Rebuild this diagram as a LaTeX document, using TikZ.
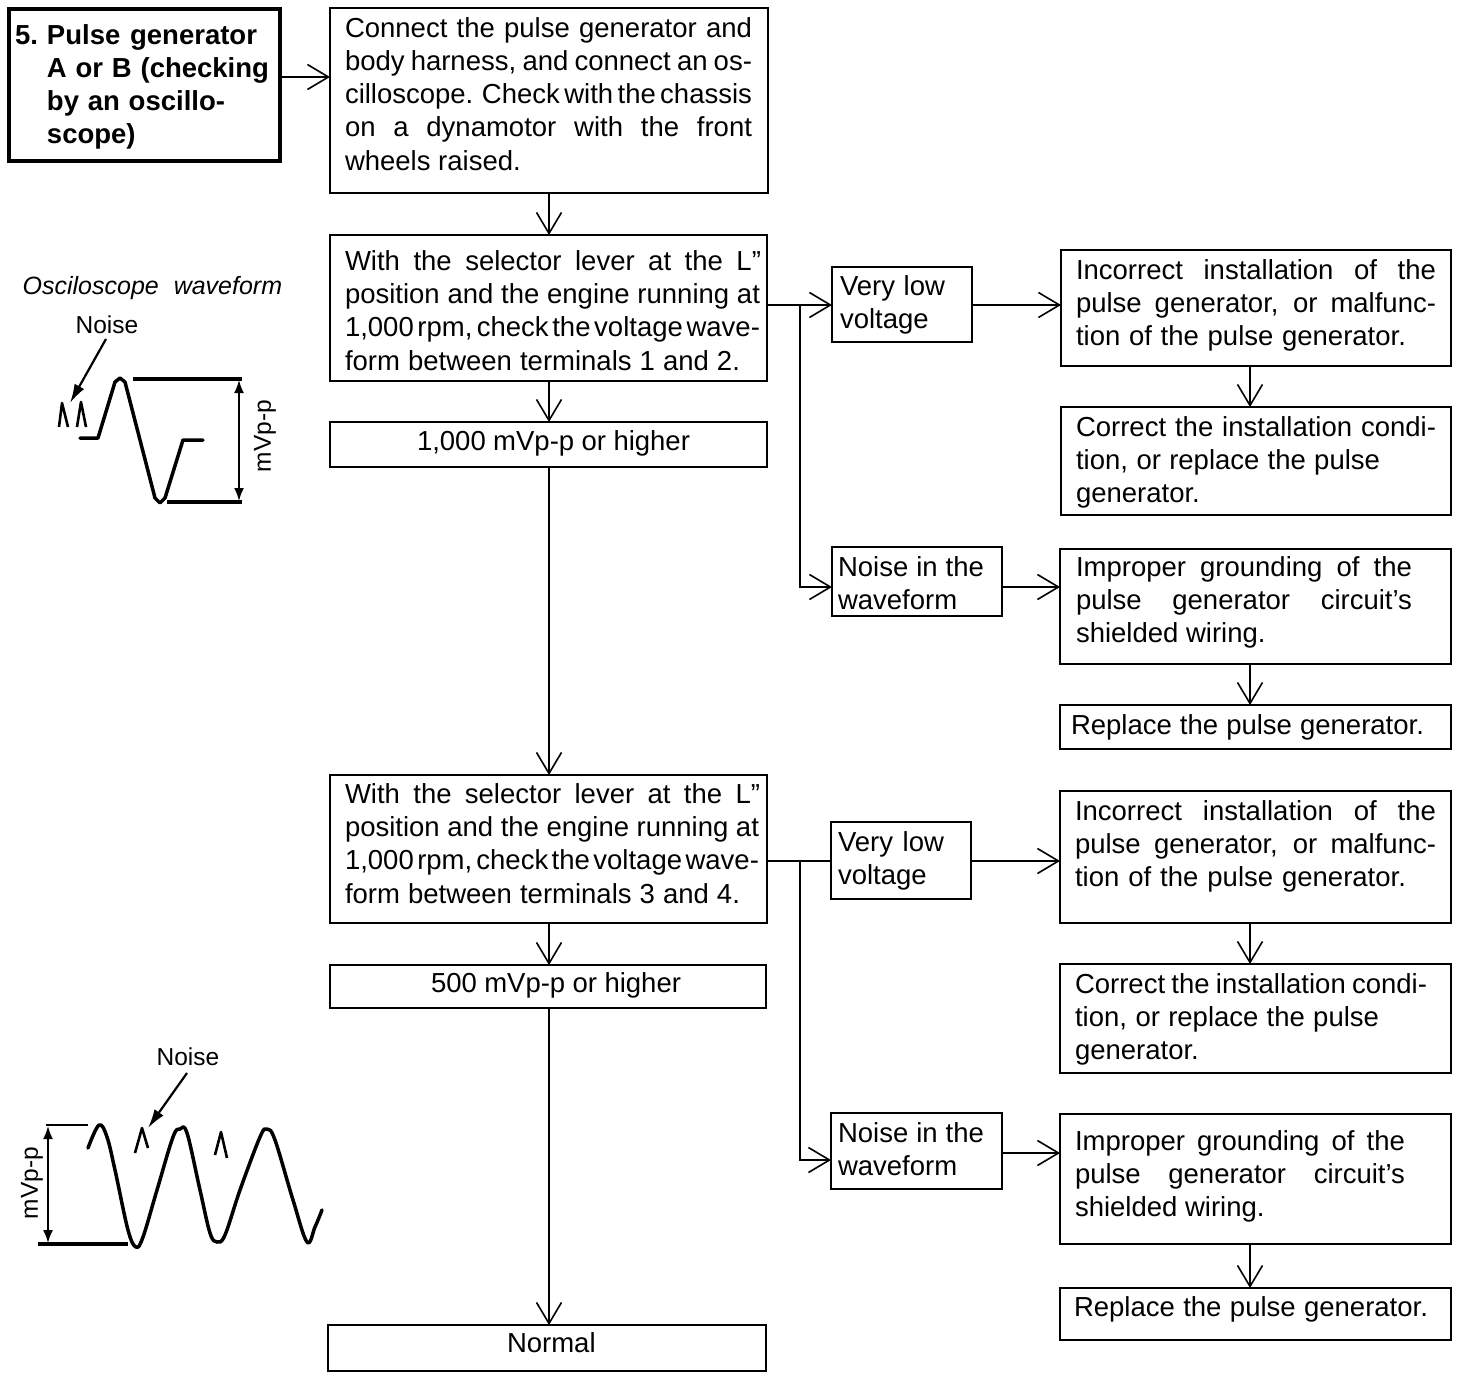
\documentclass[tikz,border=0pt]{standalone}
\usepackage{fontspec}
\setmainfont{Liberation Sans}
\usetikzlibrary{arrows.meta,calc}
\newlength{\tmpw}\newlength{\tmph}\newlength{\tmpa}\newlength{\tmpb}
\newcommand{\lstrut}{\rule[-9.9pt]{0pt}{33.3pt}}
\newcommand{\tl}[2]{\makebox[#1pt][s]{\spaceskip=.25em plus 1fil minus .17em\lstrut #2}\par}
\newcommand{\tn}[1]{\mbox{\lstrut #1}\par}
% name, x1, y1, x2, y2, text x, first line centre y, lines
\newcommand{\flowbox}[9][]{%
  \pgfmathsetlength{\tmpw}{#4-#2}\pgfmathsetlength{\tmph}{#5-#3}%
  \pgfmathsetlength{\tmpa}{#7-#2}\pgfmathsetlength{\tmpb}{#8-#3-14.3}%
  \node[flowbox style,#1] (#6) at (#2,#3) {\parbox[t][\tmph][t]{\tmpw}{%
    \vspace*{\tmpb}\leftskip=\tmpa\rightskip=0pt plus 1fil\parindent=0pt\fontsize{27.5}{33.3}\selectfont #9}};}
\tikzset{
  flowbox style/.style={draw,line width=2.2pt,anchor=north west,inner sep=0pt,outer sep=0pt},
  conn/.style={line width=2.2pt},
  flow/.style={conn,-{Straight Barb[length=21pt,width=25pt,line width=1.6pt]}},
  wave/.style={line width=3.5pt,line join=round,line cap=round},
  spike/.style={line width=2.6pt,line join=round},
  pointer/.style={line width=2.2pt,-{Latex[length=19pt,width=11pt]}},
  dim/.style={line width=1.8pt,{Latex[length=13pt,width=10pt]}-{Latex[length=13pt,width=10pt]}},
  rule/.style={line width=3.2pt},
  small/.style={inner sep=0pt,font=\fontsize{24.5}{28}\selectfont}
}
\begin{document}
\begin{tikzpicture}[x=1pt,y=-1pt]
\fill[white] (0,0) rectangle (1472,1378);
\useasboundingbox (0,0) rectangle (1472,1378);

\flowbox[line width=4.5pt]{9}{9}{280}{161}{title}{15}{35}{\bfseries
  \makebox[32pt][l]{5.}\tl{210}{Pulse generator}
  \hspace*{32pt}\tl{222}{A or B (checking}
  \hspace*{32pt}\tl{178}{by an oscillo-}
  \hspace*{32pt}\tn{scope)}}
\flowbox{330}{8}{768}{193}{b1}{345}{28}{
  \tl{407}{Connect the pulse generator and}
  \tl{407}{body harness, and connect an os-}
  \tl{407}{cilloscope. Check with the chassis}
  \tl{407}{on a dynamotor with the front}
  \tn{wheels raised.}}
\flowbox{330}{235}{767}{381}{b2}{345}{261}{
  \tl{416}{With the selector lever at the L"}
  \tl{415}{position and the engine running at}
  \tl{415}{1,000 rpm, check the voltage wave-}
  \tl{395}{form between terminals 1 and 2.}}
\flowbox{330}{422}{767}{467}{b3}{417}{441}{\tl{273}{1,000 mVp-p or higher}}
\flowbox{832}{267}{972}{342}{vl1}{840}{286}{\tl{105}{Very low}\tn{voltage}}
\flowbox{832}{547}{1002}{616}{n1}{838}{567}{\tl{146}{Noise in the}\tn{waveform}}
\flowbox{1061}{250}{1451}{366}{r1}{1076}{270}{
  \tl{360}{Incorrect installation of the}
  \tl{360}{pulse generator, or malfunc-}
  \tl{330}{tion of the pulse generator.}}
\flowbox{1061}{407}{1451}{515}{r2}{1076}{427}{
  \tl{360}{Correct the installation condi-}
  \tl{304}{tion, or replace the pulse}
  \tn{generator.}}
\flowbox{1060}{549}{1451}{664}{r3}{1076}{567}{
  \tl{336}{Improper grounding of the}
  \tl{336}{pulse generator circuit's}
  \tn{shielded wiring.}}
\flowbox{1060}{705}{1451}{749}{r4}{1071}{725}{\tl{353}{Replace the pulse generator.}}
\flowbox{330}{775}{767}{923}{b4}{345}{794}{
  \tl{415}{With the selector lever at the L"}
  \tl{414}{position and the engine running at}
  \tl{414}{1,000 rpm, check the voltage wave-}
  \tl{395}{form between terminals 3 and 4.}}
\flowbox{330}{965}{766}{1008}{b5}{431}{983}{\tl{250}{500 mVp-p or higher}}
\flowbox{328}{1325}{766}{1371}{normal}{507}{1343}{\tn{Normal}}
\flowbox{831}{822}{971}{899}{vl2}{838}{842}{\tl{106}{Very low}\tn{voltage}}
\flowbox{831}{1113}{1002}{1189}{n2}{838}{1133}{\tl{146}{Noise in the}\tn{waveform}}
\flowbox{1060}{791}{1451}{923}{r5}{1075}{811}{
  \tl{361}{Incorrect installation of the}
  \tl{361}{pulse generator, or malfunc-}
  \tl{331}{tion of the pulse generator.}}
\flowbox{1060}{964}{1451}{1073}{r6}{1075}{984}{
  \tl{352}{Correct the installation condi-}
  \tl{304}{tion, or replace the pulse}
  \tn{generator.}}
\flowbox{1060}{1114}{1451}{1244}{r7}{1075}{1141}{
  \tl{330}{Improper grounding of the}
  \tl{330}{pulse generator circuit's}
  \tn{shielded wiring.}}
\flowbox{1060}{1288}{1451}{1340}{r8}{1074}{1307}{\tl{354}{Replace the pulse generator.}}

% rows and columns of the connectors
\coordinate (ya) at (0,77);
\coordinate (yb) at (0,305);
\coordinate (yc) at (0,587);
\coordinate (yd) at (0,861);
\coordinate (ye) at (0,1160);
\coordinate (yf) at (0,1153);
\coordinate (xm) at (549,0);
\coordinate (xn) at (800,0);
\coordinate (xr) at (1250,0);

\draw[flow] (title.east |- ya) -- (b1.west |- ya);
\draw[flow] (b1.south -| xm) -- (b2.north -| xm);
\draw[flow] (b2.south -| xm) -- (b3.north -| xm);
\draw[flow] (b3.south -| xm) -- (b4.north -| xm);
\draw[flow] (b4.south -| xm) -- (b5.north -| xm);
\draw[flow] (b5.south -| xm) -- (normal.north -| xm);
\draw[flow] (b2.east |- yb) -- (vl1.west |- yb);
\draw[flow] (xn |- yb) -- (xn |- yc) -- (n1.west |- yc);
\draw[flow] (vl1.east |- yb) -- (r1.west |- yb);
\draw[flow] (n1.east |- yc) -- (r3.west |- yc);
\draw[flow] (r1.south -| xr) -- (r2.north -| xr);
\draw[flow] (r3.south -| xr) -- (r4.north -| xr);
\draw[conn] (b4.east |- yd) -- (vl2.west |- yd);
\draw[flow] (xn |- yd) -- (xn |- ye) -- (n2.west |- ye);
\draw[flow] (vl2.east |- yd) -- (r5.west |- yd);
\draw[flow] (n2.east |- yf) -- (r7.west |- yf);
\draw[flow] (r5.south -| xr) -- (r6.north -| xr);
\draw[flow] (r7.south -| xr) -- (r8.north -| xr);

% upper waveform
\node[small,font=\fontsize{25}{28}\selectfont\itshape] (scopelabel) at (153,288) {\makebox[263pt]{Osciloscope\hspace{15pt}waveform\hss}};
\node[small] (noisea) at (107,325) {Noise};
\node[small,rotate=90] (mvppa) at (265,436) {mVp-p};
\draw[wave] (80,438) -- (98,438) -- (115,382) -- (120,378) -- (125,382) -- (155,498) -- (160,503) -- (165,498) -- (183,440) -- (203,440);
\draw[rule] (133,379) -- (242,379);
\draw[rule] (167,502) -- (242,502);
\draw[dim] (239,380) -- (239,501);
\draw[pointer] (106,339) -- (70,403);
\draw[spike] (59,427) -- (62,403) -- (68,427);
\draw[spike] (77,427) -- (81,402) -- (86,427);

% lower waveform
\node[small] (noiseb) at (188,1057) {Noise};
\node[small,rotate=90] (mvppb) at (32,1183) {mVp-p};
\draw[wave] plot[smooth,tension=.6] coordinates {(88,1148) (99,1125) (107,1137) (115,1170) (128,1230) (136,1247) (143,1237) (157,1190) (173,1137) (180,1129) (187,1133) (200,1190) (210,1233) (217,1242) (225,1235) (240,1190) (260,1137) (267,1129) (275,1140) (293,1200) (307,1242) (315,1227) (322,1210)};
\draw[line width=2pt] (46,1125) -- (88,1125);
\draw[line width=3.6pt] (38,1244) -- (128,1244);
\draw[dim] (48,1126) -- (48,1243);
\draw[pointer] (187,1073) -- (148,1128);
\draw[spike] (135,1153) -- (142,1128) -- (148,1148);
\draw[spike] (215,1155) -- (221,1132) -- (227,1158);
\end{tikzpicture}
\end{document}
